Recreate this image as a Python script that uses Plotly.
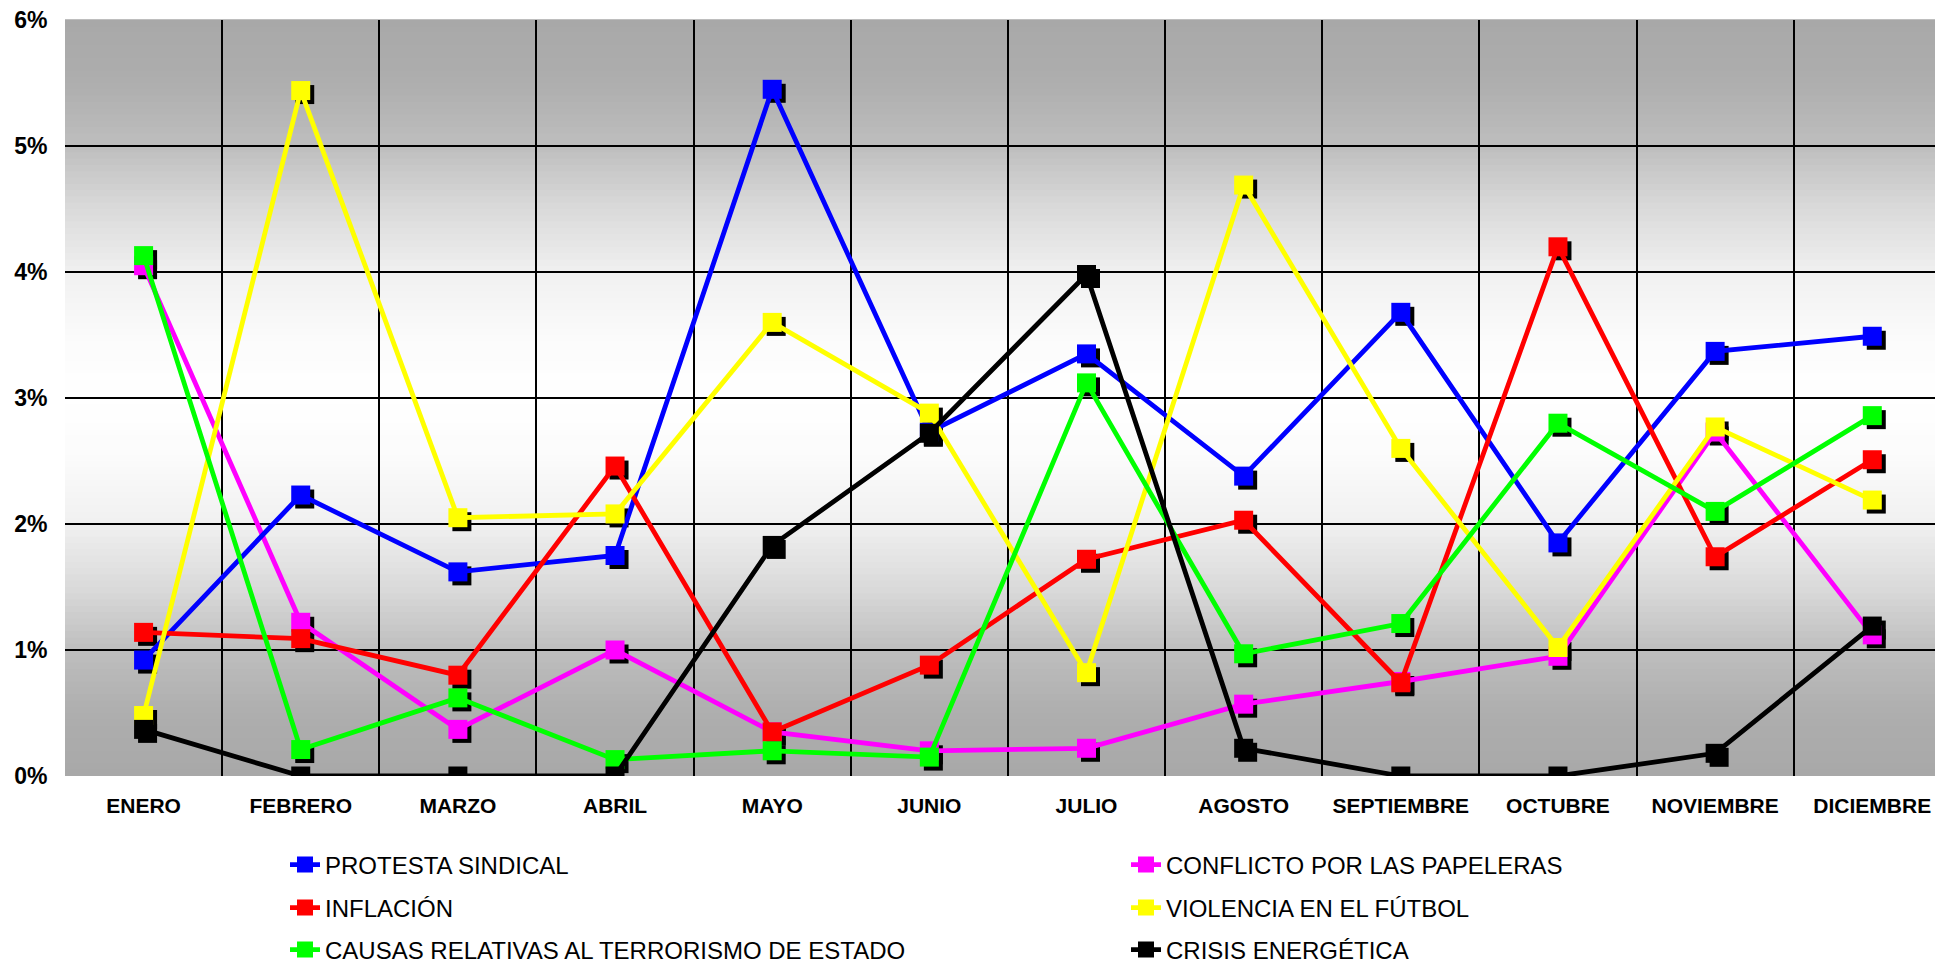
import numpy as np
import plotly.graph_objects as go

# Datos (porcentaje mensual por tema)
meses = ["ENERO", "FEBRERO", "MARZO", "ABRIL", "MAYO", "JUNIO", "JULIO",
         "AGOSTO", "SEPTIEMBRE", "OCTUBRE", "NOVIEMBRE", "DICIEMBRE"]

protesta_sindical = [0.92, 2.23, 1.62, 1.75, 5.45, 2.73, 3.35, 2.38, 3.68, 1.85, 3.37, 3.49]
conflicto_papeleras = [4.05, 1.22, 0.37, 1.00, 0.35, 0.20, 0.22, 0.57, 0.75, 0.95, 2.73, 1.12]
inflacion = [1.14, 1.09, 0.80, 2.46, 0.35, 0.88, 1.72, 2.03, 0.74, 4.20, 1.74, 2.51]
violencia_futbol = [0.48, 5.44, 2.05, 2.08, 3.60, 2.88, 0.82, 4.69, 2.60, 1.02, 2.77, 2.19]
terrorismo_estado = [4.13, 0.21, 0.62, 0.13, 0.20, 0.15, 3.12, 0.97, 1.21, 2.80, 2.10, 2.86]
crisis_energetica = [0.37, 0.00, 0.00, 0.00, 1.83, 2.72, 3.98, 0.22, 0.00, 0.00, 0.18, 1.19]

# (nombre, valores, color, orden de dibujo, leyenda)
series = [
    ("PROTESTA SINDICAL", protesta_sindical, "#0000FF", 1, "legend"),
    ("CONFLICTO POR LAS PAPELERAS", conflicto_papeleras, "#FF00FF", 0, "legend"),
    ("INFLACIÓN", inflacion, "#FF0000", 2, "legend2"),
    ("VIOLENCIA EN EL FÚTBOL", violencia_futbol, "#FFFF00", 3, "legend2"),
    ("CAUSAS RELATIVAS AL TERRORISMO DE ESTADO", terrorismo_estado, "#00FF00", 4, "legend3"),
    ("CRISIS ENERGÉTICA", crisis_energetica, "#000000", 5, "legend3"),
]

fig = go.Figure()

# Sombras de los marcadores (eje desplazado unos pixeles)
for nombre, valores, color, z, leg in series:
    fig.add_trace(go.Scatter(
        x=meses, y=valores, mode="markers",
        marker=dict(symbol="square", size=19, color="black"),
        showlegend=False, hoverinfo="skip", cliponaxis=False,
        xaxis="x", yaxis="y",
    ))

# Series principales
for nombre, valores, color, z, leg in series:
    fig.add_trace(go.Scatter(
        x=meses, y=valores, name=nombre, mode="lines+markers",
        line=dict(color=color, width=4.8),
        marker=dict(symbol="square", size=19, color=color),
        xaxis="x2", yaxis="y2", legend=leg, zorder=z, cliponaxis=False,
    ))

# Geometria (la pagina agrega 8px de margen al body)
W, H = 1935, 956
ml, mr, mt, mb = 57, 0, 12, 188
alto_area = H - mt - mb
ancho_cat = (W - ml - mr) / 11.95
dx = 4 / ancho_cat
dy = 4 / (alto_area / 6)

# Fondo degradado: gris arriba y abajo, blanco al centro
niveles = np.linspace(0, 6, 121)
dist = [0, 0.5, 1.0, 1.5, 2.0, 2.5, 3.0]
gris = [255, 251, 240, 218, 190, 174, 168]
shapes = []
for a, b in zip(niveles[:-1], niveles[1:]):
    g = int(round(np.interp(abs((a + b) / 2 - 3), dist, gris)))
    shapes.append(dict(
        type="rect", xref="paper", yref="paper", layer="below",
        x0=0, x1=1, y0=a / 6, y1=b / 6 + 0.001,
        fillcolor=f"rgb({g},{g},{g})", line=dict(width=0),
    ))

fuente = "Liberation Sans, Arial, sans-serif"

fig.update_layout(
    width=W, height=H,
    margin=dict(l=ml, r=mr, t=mt, b=mb, autoexpand=False),
    paper_bgcolor="white",
    plot_bgcolor="rgba(0,0,0,0)",
    font=dict(family=fuente, color="black"),
    shapes=shapes,
    showlegend=True,
    hovermode="closest",
    #Ejes de las sombras (invisibles)
    xaxis=dict(
        type="category", visible=False, domain=[0, 1],
        range=[-0.5 - dx, 11.45 - dx], anchor="y", automargin=False,
    ),
    yaxis=dict(
        visible=False, domain=[0, 1],
        range=[0 + dy, 6 + dy], anchor="x", automargin=False,
    ),
    #Ejes principales
    xaxis2=dict(
        type="category", domain=[0, 1], anchor="y2",
        range=[-0.5, 11.45],
        tickson="boundaries", ticks="",
        showgrid=True, gridcolor="black", gridwidth=1.5,
        showline=True, linecolor="black", linewidth=2, mirror=True,
        tickfont=dict(size=21, family=fuente),
        tickprefix="<b>", ticksuffix="</b>",
        ticklabelstandoff=10, automargin=False,
        ticklabeloverflow="allow",
    ),
    yaxis2=dict(
        domain=[0, 1], anchor="x2",
        range=[0, 6], dtick=1,
        tickprefix="<b>", ticksuffix="%</b>",
        showgrid=True, gridcolor="black", gridwidth=1.5,
        zeroline=True, zerolinecolor="black", zerolinewidth=2,
        showline=True, linecolor="black", linewidth=2,
        tickfont=dict(size=23, family=fuente),
        ticklabelstandoff=11, automargin=False,
        ticklabeloverflow="allow",
    ),
)

# Leyenda en tres filas de dos columnas
leyenda = dict(
    orientation="h", xanchor="left", yanchor="middle",
    entrywidth=796, entrywidthmode="pixels",
    font=dict(size=24, family=fuente),
    bgcolor="rgba(0,0,0,0)", itemclick=False,
)
filas = [857, 900, 942]
for clave, fila in zip(["legend", "legend2", "legend3"], filas):
    fig.update_layout({clave: dict(leyenda, x=(277 - ml) / (W - ml - mr),
                                    y=(H - mb - fila) / alto_area)})

fig.write_html("out.html")
